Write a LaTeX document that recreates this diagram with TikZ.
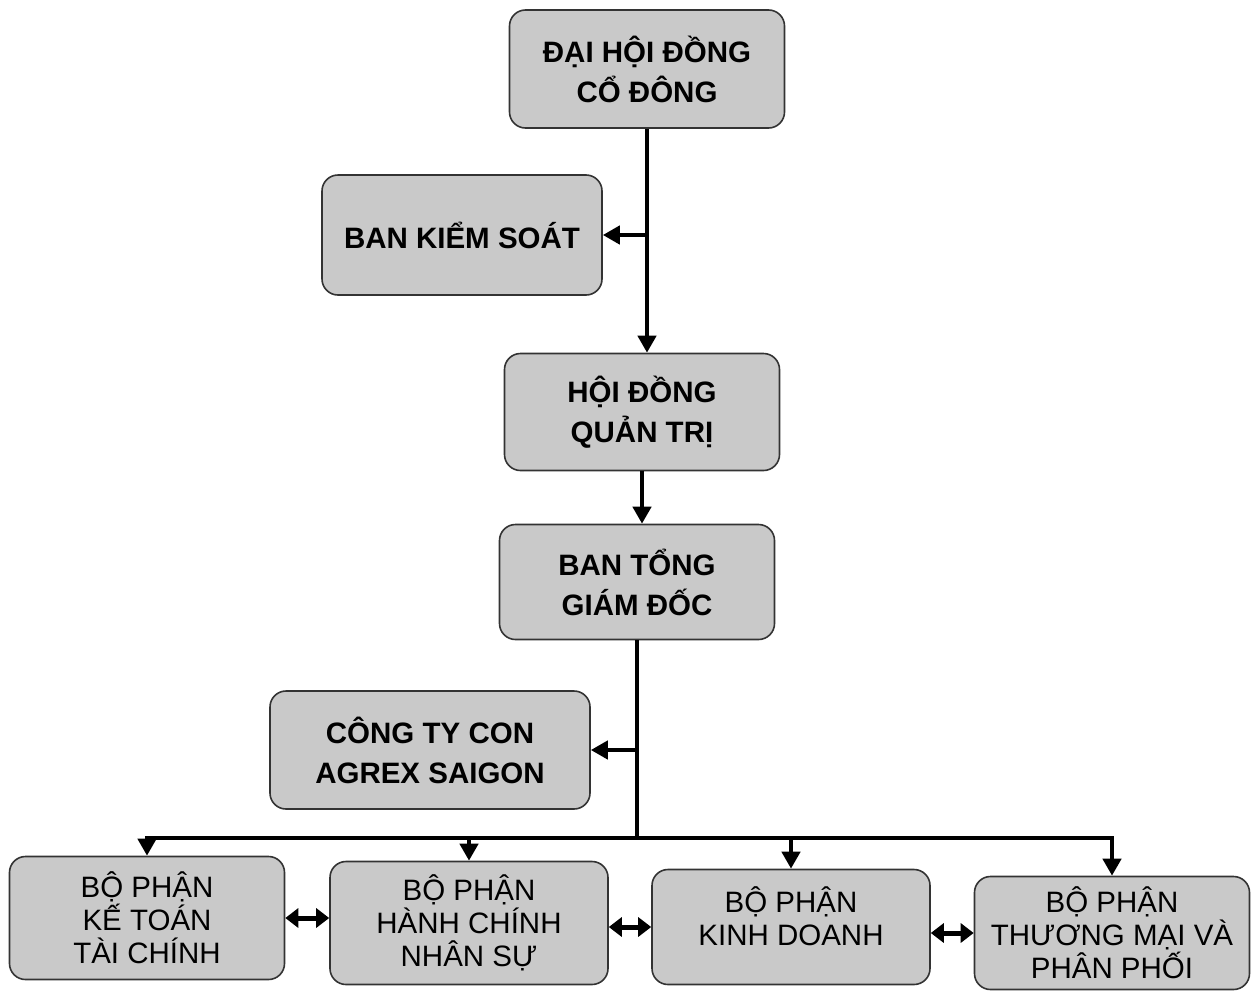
\documentclass[tikz,border=0pt]{standalone}
\usepackage{fontspec}
\setmainfont{Liberation Sans}
\usetikzlibrary{arrows.meta}
\definecolor{boxfill}{HTML}{C9C9C9}
\definecolor{boxline}{HTML}{333333}
\tikzset{
  box/.style={draw=boxline, line width=1.6pt, fill=boxfill, rounded corners=16pt, align=center, inner sep=0pt},
  topbox/.style={box, font=\fontsize{29.5}{40}\selectfont\bfseries},
  botbox/.style={box, font=\fontsize{29.5}{33}\selectfont},
  link/.style={line width=4.5pt, -{Triangle[length=17pt,width=18pt]}},
  plain/.style={line width=4.5pt},
  dbl/.style={line width=5pt, {Triangle[length=13pt,width=19pt]}-{Triangle[length=13pt,width=19pt]}}
}
\begin{document}
\begin{tikzpicture}[x=1pt,y=-1pt]
\useasboundingbox (0,0) rectangle (1255,991);
\node[topbox, minimum width=275pt, minimum height=118pt] (dh) at (647,69) {ĐẠI HỘI ĐỒNG\\CỔ ĐÔNG};
\node[topbox, minimum width=280pt, minimum height=120pt] (bks) at (462,235) {BAN KIỂM SOÁT};
\node[topbox, minimum width=275pt, minimum height=117pt] (hd) at (642,412) {HỘI ĐỒNG\\QUẢN TRỊ};
\node[topbox, minimum width=275pt, minimum height=115pt] (btgd) at (637,582) {BAN TỔNG\\GIÁM ĐỐC};
\node[topbox, minimum width=320pt, minimum height=118pt] (ctc) at (430,750) {CÔNG TY CON\\AGREX SAIGON};
\node[botbox, minimum width=275pt, minimum height=123pt] (b1) at (147,918) {BỘ PHẬN\\KẾ TOÁN\\TÀI CHÍNH};
\node[botbox, minimum width=278pt, minimum height=123pt] (b2) at (469,923) {BỘ PHẬN\\HÀNH CHÍNH\\NHÂN SỰ};
\node[botbox, minimum width=278pt, minimum height=115pt] (b3) at (791,927) {BỘ PHẬN\\KINH DOANH\\[-11pt]\mbox{}};
\node[botbox, minimum width=275pt, minimum height=113pt] (b4) at (1112,933) {BỘ PHẬN\\THƯƠNG MẠI VÀ\\PHÂN PHỐI};
% connectors
\coordinate (k1) at (dh.south |- bks.east);
\draw[link] (dh.south) -- (dh.south |- hd.north);
\draw[link] (k1) -- (bks.east);
\draw[link] (hd.south) -- (hd.south |- btgd.north);
\coordinate (bus) at (0,838);
\coordinate (k2) at (btgd.south |- ctc.east);
\draw[plain] (btgd.south) -- (btgd.south |- bus);
\draw[link] (k2) -- (ctc.east);
\draw[plain] ([xshift=-2.25pt]b1.north |- bus) -- ([xshift=2.25pt]b4.north |- bus);
\draw[link] ([yshift=-2.25pt]b1.north |- bus) -- (b1.north);
\draw[link] ([yshift=-2.25pt]b2.north |- bus) -- (b2.north);
\draw[link] ([yshift=-2.25pt]b3.north |- bus) -- (b3.north);
\draw[link] ([yshift=-2.25pt]b4.north |- bus) -- (b4.north);
\draw[dbl] (b1.east) -- (b1.east -| b2.west);
\draw[dbl] (b2.east |- b3.east) -- (b3.west);
\draw[dbl] (b3.east |- b4.east) -- (b4.west);
\end{tikzpicture}
\end{document}
